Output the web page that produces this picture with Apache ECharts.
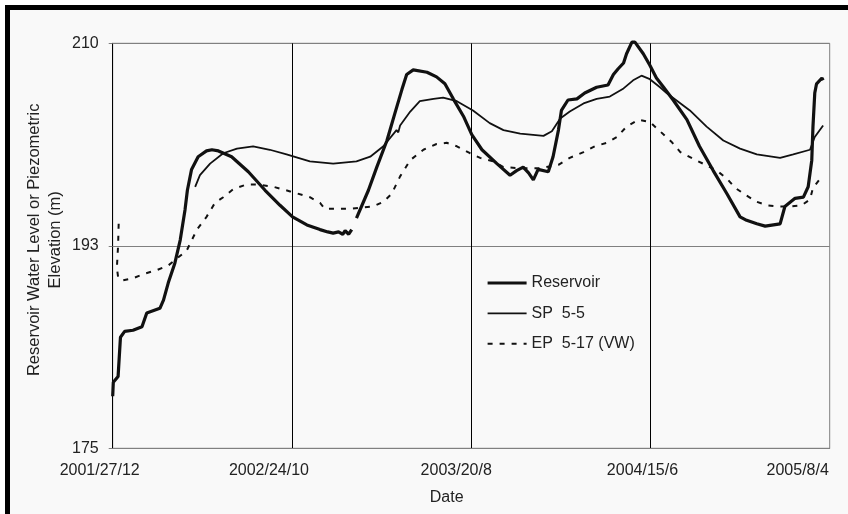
<!DOCTYPE html>
<html>
<head>
<meta charset="utf-8">
<script src="https://cdn.jsdelivr.net/npm/echarts@6/dist/echarts.min.js"></script>
<style>
  html, body { margin: 0; padding: 0; background: #ffffff; }
  #chart { width: 848px; height: 514px; }
</style>
</head>
<body>
<div id="chart"></div>
<script>
// Date axis: days counted from 2001-12-27, one tick every 300 days
const xTickLabels = ['2001/27/12', '2002/24/10', '2003/20/8', '2004/15/6', '2005/8/4'];
const xMin = 0, xMax = 1200, xStep = 300;
const yMin = 175, yMax = 210, yStep = 17.5;

// Reservoir water level (m); null marks a gap in the record
const reservoirDays = [0,1,9,13,20,34,49,57,79,85,93,104,113,121,125,132,143,157,166,177,
  199,227,255,280,301,325,347,360,369,378,385,389,395,400,404,408,428,442,459,472,
  484,492,503,526,542,556,570,587,601,618,643,665,676,687,696,704,712,729,737,746,
  751,762,777,790,810,829,838,846,855,860,869,874,888,899,910,922,938,961,982,1005,
  1028,1050,1061,1078,1092,1117,1125,1142,1156,1164,1170,1172,1175,1178,1187,1189];
const reservoirLevel = [179.5,180.7,181.2,184.6,185.1,185.2,185.5,186.7,187.1,187.8,
  189.3,191.0,193.0,195.6,197.3,199.1,200.2,200.7,200.8,200.7,
  200.2,198.9,197.3,196.0,195.0,194.3,193.9,193.7,193.6,193.7,
  193.5,193.8,193.5,193.9,null,194.9,197.3,199.3,201.6,203.9,
  206.0,207.3,207.7,207.5,207.1,206.5,205.2,203.7,202.1,200.8,
  199.6,198.6,199.0,199.3,198.8,198.2,199.1,198.9,200.2,202.5,
  204.2,205.1,205.2,205.7,206.2,206.4,207.3,207.8,208.3,209.1,
  210.1,210.1,209.1,208.1,207.0,206.2,205.1,203.4,201.1,199.0,
  197.0,195.0,194.7,194.4,194.2,194.4,195.9,196.6,196.7,197.6,
  199.9,202.8,205.7,206.5,207.0,206.8];

// Standpipe piezometer SP 5-5 (m)
const spDays = [138,146,163,185,208,235,263,291,330,369,
  408,431,453,475,478,481,498,514,537,553,
  576,603,631,654,682,721,735,749,765,788,
  810,832,855,871,885,899,916,927,966,994,
  1022,1050,1078,1117,1139,1167,1175,1189];
const spLevel = [197.6,198.6,199.6,200.5,200.9,201.1,200.8,200.4,199.8,199.6,
  199.8,200.2,201.1,202.5,202.3,202.9,204.1,205.0,205.2,205.3,
  205.0,204.2,203.1,202.5,202.2,202.0,202.4,203.5,204.1,204.8,
  205.2,205.4,206.1,206.8,207.2,206.9,206.2,205.7,204.2,202.8,
  201.6,200.9,200.4,200.1,200.4,200.8,201.9,202.9];

// Vibrating-wire piezometer EP 5-17 (m)
const epDays = [10,9,7,9,15,34,54,74,93,124,
  141,157,171,185,202,224,241,269,297,330,
  347,355,397,436,453,467,481,498,520,542,
  559,576,598,615,637,654,682,715,746,765,
  788,807,827,844,860,880,899,916,935,950,
  972,988,1011,1028,1042,1059,1078,1095,1114,1133,
  1153,1167,1172,1187];
const epLevel = [194.4,192.5,190.6,189.8,189.5,189.7,190.1,190.4,190.8,192.1,
  193.9,195.0,196.2,196.7,197.4,197.8,197.8,197.6,197.2,196.7,
  196.2,195.7,195.7,195.9,196.3,197.0,198.5,199.9,200.8,201.3,
  201.4,201.1,200.5,200.1,199.8,199.3,199.2,199.2,199.5,200.1,
  200.6,201.1,201.4,201.9,202.8,203.4,203.2,202.4,201.5,200.6,
  200.0,199.6,199.0,198.3,197.5,196.9,196.3,196.0,195.9,195.9,
  196.0,196.5,197.5,198.5];

const seriesNames = ['Reservoir', 'SP  5-5', 'EP  5-17 (VW)'];

// horizontal nudge (px) for each date label
const xLabelShift = [-13, -23, -15, -8, -32];

const zip = (xs, ys) => xs.map((x, i) => [x, ys[i]]);

const textColor = '#222';
const fontFamily = 'Liberation Sans, Arial, sans-serif';

// line styles shared by the plotted series and their legend keys
const lineStyles = [
  { color: '#111', width: 3.2 },
  { color: '#111', width: 1.8 },
  { color: '#111', width: 2, type: [5, 7] }
];

const rich = {};
xLabelShift.forEach((s, i) => {
  rich['t' + i] = {
    fontSize: 16, fontFamily: fontFamily, color: textColor,
    padding: s < 0 ? [0, -2 * s, 0, 0] : [0, 0, 0, 2 * s]
  };
});

const chart = echarts.init(document.getElementById('chart'), null, { renderer: 'canvas' });

chart.setOption({
  backgroundColor: '#f9f9f9',
  animation: false,
  textStyle: { fontFamily: fontFamily },
  graphic: [
    { type: 'rect', left: 0, top: 0, shape: { width: 848, height: 5 }, style: { fill: '#ffffff' }, silent: true },
    { type: 'rect', left: 0, top: 0, shape: { width: 5, height: 514 }, style: { fill: '#ffffff' }, silent: true },
    { type: 'rect', left: 5, top: 5, shape: { width: 843, height: 5 }, style: { fill: '#000000' }, silent: true },
    { type: 'rect', left: 5, top: 5, shape: { width: 5, height: 509 }, style: { fill: '#000000' }, silent: true }
  ],
  grid: {
    left: 112.7, right: 18.3, top: 43.3, bottom: 65.7,
    show: true, backgroundColor: '#f9f9f9', borderColor: '#808080', borderWidth: 1
  },
  legend: {
    orient: 'vertical',
    left: 486, top: 275,
    padding: 0,
    itemWidth: 39, itemHeight: 14, itemGap: 14.4,
    itemStyle: { color: 'transparent', borderWidth: 0, opacity: 0 },
    textStyle: { fontSize: 16, color: textColor, fontFamily: fontFamily },
    data: seriesNames.map((n, i) => ({ name: n, lineStyle: lineStyles[i] }))
  },
  xAxis: {
    type: 'value',
    min: xMin, max: xMax, interval: xStep,
    name: 'Date',
    nameLocation: 'middle',
    nameGap: 41,
    nameMoveOverlap: false,
    nameTextStyle: { fontSize: 16, color: textColor, padding: [0, 49, 0, 0] },
    axisLine: { show: true, lineStyle: { color: '#808080', width: 1 } },
    axisTick: { show: false },
    axisLabel: {
      margin: 14,
      fontSize: 16,
      color: textColor,
      formatter: function (v) {
        const i = Math.round((v - xMin) / xStep);
        return '{t' + i + '|' + xTickLabels[i] + '}';
      },
      rich: rich
    },
    splitLine: { show: true, showMaxLine: false, lineStyle: { color: '#000000', width: 1 } }
  },
  yAxis: {
    type: 'value',
    min: yMin, max: yMax, interval: yStep,
    name: 'Reservoir Water Level or Piezometric\nElevation (m)',
    nameLocation: 'middle',
    nameGap: 47,
    nameMoveOverlap: false,
    nameTextStyle: { fontSize: 16.5, color: textColor, lineHeight: 21, padding: [0, 0, 0, 12] },
    axisLine: { show: true, lineStyle: { color: '#000000', width: 1 } },
    axisTick: { show: true, length: 4, lineStyle: { color: '#808080' } },
    axisLabel: {
      margin: 14,
      fontSize: 16,
      color: textColor,
      formatter: function (v) { return String(Math.round(v)); }
    },
    splitLine: { show: true, lineStyle: { color: '#808080', width: 1 } }
  },
  series: [
    {
      name: seriesNames[0], type: 'line', symbol: 'none', clip: false,
      lineStyle: lineStyles[0],
      itemStyle: { color: '#111' },
      connectNulls: false,
      data: zip(reservoirDays, reservoirLevel)
    },
    {
      name: seriesNames[1], type: 'line', symbol: 'none', clip: false,
      lineStyle: lineStyles[1],
      itemStyle: { color: '#111' },
      data: zip(spDays, spLevel)
    },
    {
      name: seriesNames[2], type: 'line', symbol: 'none', clip: false,
      lineStyle: lineStyles[2],
      itemStyle: { color: '#111' },
      data: zip(epDays, epLevel)
    }
  ]
});
</script>
</body>
</html>
